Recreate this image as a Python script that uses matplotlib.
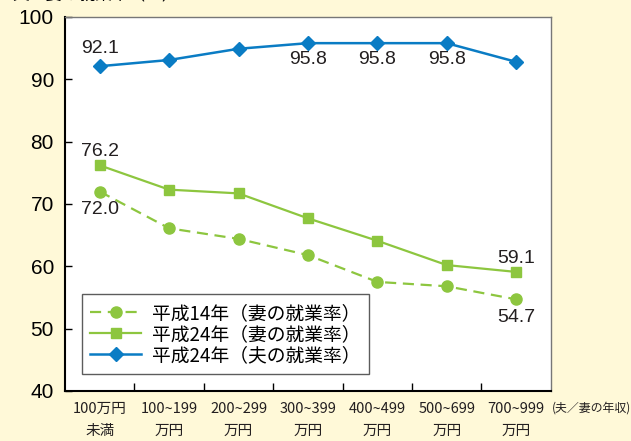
import matplotlib.pyplot as plt

plt.rcParams['font.family'] = ['Noto Sans CJK JP', 'DejaVu Sans']

# ---- data ----
categories = ["100万円\n未満", "100~199\n万円", "200~299\n万円", "300~399\n万円",
              "400~499\n万円", "500~699\n万円", "700~999\n万円"]
wife_h14 = [72.0, 66.1, 64.4, 61.8, 57.5, 56.8, 54.7]
wife_h24 = [76.2, 72.3, 71.7, 67.7, 64.1, 60.2, 59.1]
husband_h24 = [92.1, 93.1, 94.9, 95.8, 95.8, 95.8, 92.8]
yticks = [40, 50, 60, 70, 80, 90, 100]

GREEN = "#8DC63F"
BLUE = "#0A7CC4"
BG = "#FFF9D8"

fig = plt.figure(figsize=(6.31, 4.41), dpi=100, facecolor=BG)
ax = fig.add_axes([0.103, 0.1134, 0.770, 0.8481])
ax.set_facecolor("white")

x = list(range(len(categories)))
ax.plot(x, wife_h14, color=GREEN, lw=1.6, ls=(0, (5, 3)), marker="o", ms=8,
        label="平成14年（妻の就業率）")
ax.plot(x, wife_h24, color=GREEN, lw=1.6, marker="s", ms=7.5,
        label="平成24年（妻の就業率）")
ax.plot(x, husband_h24, color=BLUE, lw=1.8, marker="D", ms=7,
        label="平成24年（夫の就業率）")

# value labels
lab = dict(fontsize=14, color="#231F20", ha="center", family="Liberation Sans")
ax.text(x[0], husband_h24[0] + 1.4, f"{husband_h24[0]:.1f}", va="bottom", **lab)
for i in (3, 4, 5):
    ax.text(x[i], husband_h24[i] - 1.3, f"{husband_h24[i]:.1f}", va="top", **lab)
ax.text(x[0], wife_h24[0] + 0.8, f"{wife_h24[0]:.1f}", va="bottom", **lab)
ax.text(x[0], wife_h14[0] - 1.5, f"{wife_h14[0]:.1f}", va="top", **lab)
ax.text(x[6], wife_h24[6] + 0.8, f"{wife_h24[6]:.1f}", va="bottom", **lab)
ax.text(x[6], wife_h14[6] - 1.6, f"{wife_h14[6]:.1f}", va="top", **lab)

ax.set_ylim(40, 100)
ax.set_xlim(-0.5, len(categories) - 0.5)
ax.set_yticks(yticks)
ax.set_yticklabels([str(v) for v in yticks], fontsize=15, family="Liberation Sans")
ax.tick_params(axis="y", direction="in", length=5, width=1, pad=8)

# x ticks at category boundaries, labels at centres
ax.set_xticks([i + 0.5 for i in x[:-1]])
ax.set_xticklabels([])
ax.tick_params(axis="x", direction="in", length=6, width=1)
ax.set_xticks(x, minor=True)
ax.set_xticklabels(categories, minor=True, fontsize=10.5, linespacing=1.75,
                   color="#231F20")
ax.tick_params(axis="x", which="minor", length=0, pad=8)

for side in ("top", "right"):
    ax.spines[side].set_color("#777777")
    ax.spines[side].set_linewidth(1)
ax.spines["left"].set_linewidth(1.5)
ax.spines["bottom"].set_linewidth(1.5)

ax.text(1.003, -0.028, "(夫／妻の年収)", transform=ax.transAxes, fontsize=8.6,
        ha="left", va="top", color="#231F20")

leg = ax.legend(loc="lower left", bbox_to_anchor=(0.035, 0.045), fontsize=13.5,
                frameon=True, fancybox=False, edgecolor="#333333",
                handlelength=2.7, borderpad=0.45, labelspacing=0.0,
                handletextpad=0.6, borderaxespad=0)
leg.get_frame().set_linewidth(1)

# heading, mostly outside the canvas
fig.text(0.02, 0.993, "夫・妻の就業率（％）", fontsize=12, ha="left", va="bottom")

fig.savefig("out.png", dpi=100, facecolor=BG)
